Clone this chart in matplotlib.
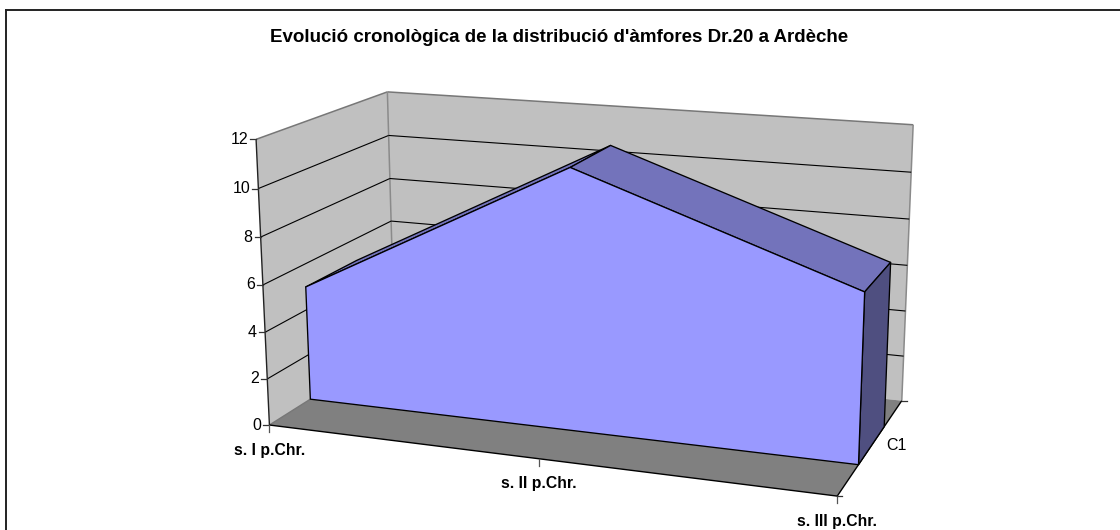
import numpy as np
import matplotlib
matplotlib.use("Agg")
import matplotlib.pyplot as plt
from matplotlib.patches import Polygon

plt.rcParams['font.family'] = ['Liberation Sans', 'DejaVu Sans']

title = "Evolució cronològica de la distribució d'àmfores Dr.20 a Ardèche"
categories = ["s. I p.Chr.", "s. II p.Chr.", "s. III p.Chr."]
series_name = "C1"
values = [5, 11, 7]
y_ticks = [0, 2, 4, 6, 8, 10, 12]

WALL = "#c0c0c0"
FLOOR = "#808080"
FRONT = "#9999ff"
TOP = "#7373bb"
SIDE = "#4f4f80"

# pixel positions of the box: (x 0..1, value, depth 0..1) -> where it lands
calib = [
    ((0, 0, 0), (269, 424)),
    ((0, 12, 0), (256.7, 139.3)),
    ((0, 0, 1), (395.3, 346.5)),
    ((0, 12, 1), (386.7, 91.7)),
    ((1, 0, 1), (901.7, 400)),
    ((1, 12, 1), (913.3, 125)),
    ((1, 0, 0), (837.3, 496)),
    ((0.5, 0, 0), (539, 460)),
]


def fit_camera(pairs):
    rows, rhs = [], []
    for (x, y, z), (u, v) in pairs:
        y = y / 12
        rows.append([x, y, z, 1, 0, 0, 0, 0, -u * x, -u * y, -u * z])
        rhs.append(u)
        rows.append([0, 0, 0, 0, x, y, z, 1, -v * x, -v * y, -v * z])
        rhs.append(v)
    p = np.linalg.lstsq(np.array(rows, float), np.array(rhs, float), rcond=None)[0]
    return np.append(p, 1).reshape(3, 4)


cam = fit_camera(calib)


def proj(x, y, z):
    h = cam @ np.array([x, y / 12, z, 1.0])
    return h[0] / h[2], h[1] / h[2]


fig = plt.figure(figsize=(11.2, 5.3), dpi=100)
ax = fig.add_axes([0, 0, 1, 1])
ax.set_xlim(0, 1120)
ax.set_ylim(530, 0)
ax.axis("off")


def poly(pts, color, edge="none", lw=1.0, z=1):
    ax.add_patch(Polygon([proj(*p) for p in pts], closed=True, fc=color, ec=edge, lw=lw, zorder=z, joinstyle="round"))


def seg(a, b, color="black", lw=0.8, z=2):
    pa, pb = proj(*a), proj(*b)
    ax.plot([pa[0], pb[0]], [pa[1], pb[1]], color=color, lw=lw, zorder=z, solid_capstyle="butt")


# chart frame, left and top only
ax.plot([6, 6], [530, 9.5], color="#222222", lw=1.4)
ax.plot([6, 1120], [9.5, 9.5], color="#222222", lw=1.4)

ax.text(559, 37, title, ha="center", va="center", fontsize=13.5, fontweight="bold", color="black")

# walls and floor
poly([(0, 0, 0), (0, 12, 0), (0, 12, 1), (0, 0, 1)], WALL)
poly([(0, 0, 1), (0, 12, 1), (1, 12, 1), (1, 0, 1)], WALL)
poly([(0, 0, 0), (1, 0, 0), (1, 0, 1), (0, 0, 1)], FLOOR)
seg((0, 12, 0), (0, 12, 1), "#777777", 1.1)
seg((0, 12, 1), (1, 12, 1), "#777777", 1.1)
seg((1, 12, 1), (1, 0, 1), "#8a8a8a", 1.1)
seg((0, 0, 1), (0, 12, 1), "#8a8a8a", 1.1)
seg((0, 0, 0), (0, 0, 1), "#777777", 1.0)

for t in y_ticks[1:-1]:
    seg((0, t, 0), (0, t, 1))
    seg((0, t, 1), (1, t, 1))

# axis lines and ticks
seg((0, 0, 0), (0, 12, 0), "#222222", 1.0, 3)
seg((0, 0, 0), (1, 0, 0), "black", 1.0, 3)
seg((1, 0, 0), (1, 0, 1), "black", 1.0, 3)
for t in y_ticks:
    u, v = proj(0, t, 0)
    ax.plot([u - 6, u], [v, v], color="#333333", lw=0.9, zorder=3)
    ax.text(u - 8, v, str(t), ha="right", va="center", fontsize=11.5, color="black")

for i, name in enumerate(categories):
    u, v = proj(i / 2, 0, 0)
    ax.plot([u, u], [v, v + 7], color="#555555", lw=0.9, zorder=3)
    ax.text(u, v + 25, name, ha="center", va="center", fontsize=11.3, fontweight="bold", color="black")

u, v = proj(1, 0, 1)
ax.plot([u, u + 5], [v, v], color="#333333", lw=0.9, zorder=3)
u, v = proj(1, 0, 0.5)
ax.text(u + 15, v, series_name, ha="left", va="center", fontsize=11.5, color="black")
u, v = proj(1, 0, 0)
ax.plot([u, u + 5], [v, v], color="#333333", lw=0.9, zorder=3)

# area series
zf, zb = 0.3, 0.7
xs = [i / (len(values) - 1) for i in range(len(values))]
for i in range(len(values) - 1):
    poly([(xs[i], values[i], zf), (xs[i + 1], values[i + 1], zf),
          (xs[i + 1], values[i + 1], zb), (xs[i], values[i], zb)],
         TOP, "black", 0.95, 5)
poly([(1, 0, zf), (1, values[-1], zf), (1, values[-1], zb), (1, 0, zb)], SIDE, "black", 0.95, 6)
front = [(0, 0, zf)] + [(x, v, zf) for x, v in zip(xs, values)] + [(1, 0, zf)]
poly(front, FRONT, "black", 0.95, 7)

fig.savefig("out.png", dpi=100)
